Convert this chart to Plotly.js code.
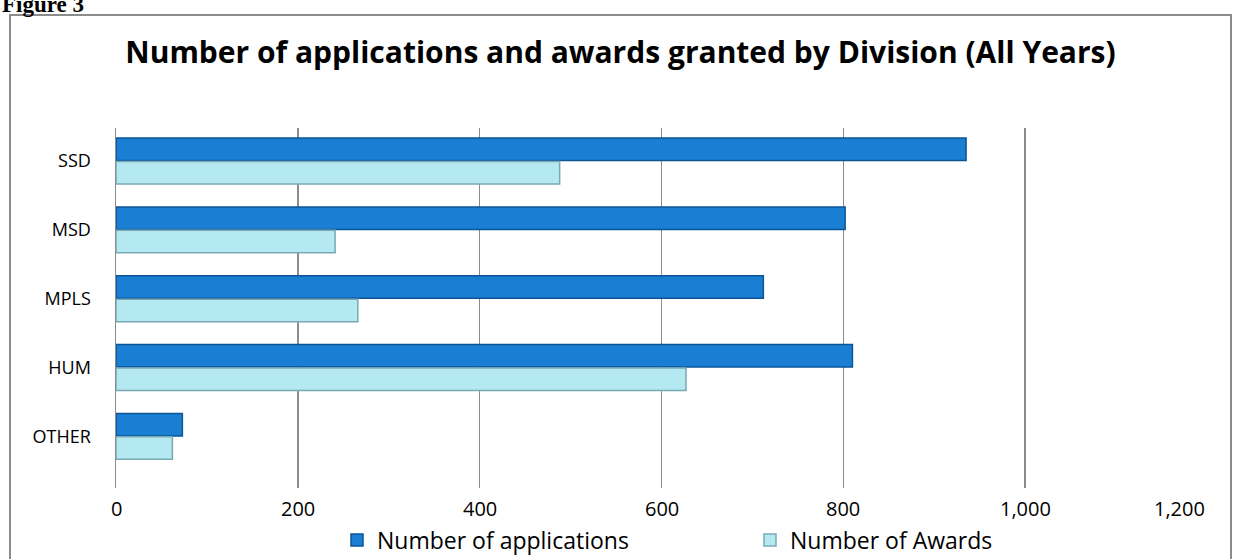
<!DOCTYPE html>
<html>
<head>
<meta charset="utf-8">
<script src="https://cdn.plot.ly/plotly-3.0.1.min.js"></script>
<style>
html,body{margin:0;padding:0;background:#fff;}
#chart{width:1241px;height:559px;}
</style>
</head>
<body>
<div id="chart"></div>
<script>
var divisions = ["SSD", "MSD", "MPLS", "HUM", "OTHER"];
var applications = [935, 802, 712, 810, 73];
var awards = [488, 241, 266, 627, 62];
var tickValues = [0, 200, 400, 600, 800, 1000, 1200];
var tickLabels = ["0", "200", "400", "600", "800", "1,000", "1,200"];
var seriesNames = ["Number of applications", "Number of Awards"];

var L = 116, R = 1207, T = 128, B = 488;
var W = 1241, H = 559;
var pw = R - L, ph = B - T;
function px(x){ return (x - L) / pw; }
function py(y){ return (B - y) / ph; }

var traces = [
  {
    type: "bar", orientation: "h", name: seriesNames[0],
    y: divisions, x: applications,
    marker: {color: "#1a7fd2", line: {color: "#0b5597", width: 1.5}},
    hoverinfo: "x+y"
  },
  {
    type: "bar", orientation: "h", name: seriesNames[1],
    y: divisions, x: awards,
    marker: {color: "#b4e9f1", line: {color: "#7aa9b6", width: 1.5}},
    hoverinfo: "x+y"
  }
];

var annotations = [
  {xref: "paper", yref: "paper", x: px(0), y: py(19), xanchor: "left", yanchor: "bottom",
   text: "<b>Figure 3</b>", showarrow: false,
   font: {family: "Liberation Serif", size: 23, color: "#000"}}
];
tickValues.forEach(function(v, i){
  annotations.push({
    xref: "x", yref: "paper", x: v, y: py(508), yanchor: "middle",
    xanchor: i === tickValues.length - 1 ? "right" : "center",
    text: tickLabels[i], showarrow: false,
    font: {family: "Open Sans", size: 20, color: "#000"}
  });
});

var layout = {
  width: W, height: H,
  margin: {l: L, r: W - R, t: T, b: H - B, pad: 0, autoexpand: false},
  paper_bgcolor: "#ffffff", plot_bgcolor: "#ffffff",
  barmode: "group", bargap: 0.32, bargroupgap: 0.04,
  showlegend: true,
  title: {
    text: "Number of applications and awards granted by Division (All Years)",
    font: {family: "Open Sans", size: 30, color: "#000000", weight: "bold"},
    x: 0.5, xanchor: "center", y: 1 - 52 / H, yanchor: "middle"
  },
  xaxis: {
    range: [0, 1200], tickvals: tickValues, showticklabels: false,
    showgrid: true, gridcolor: "#8c8c8c", gridwidth: 1.5,
    zeroline: false, showline: false, ticks: "", fixedrange: true
  },
  yaxis: {
    type: "category", range: [4.75, -0.48],
    showgrid: false, zeroline: false, showline: true, linecolor: "#8c8c8c", linewidth: 1.5,
    ticks: "", tickfont: {family: "Open Sans", size: 18, color: "#000"},
    ticklabelstandoff: 20, fixedrange: true
  },
  legend: {
    orientation: "h", x: px(337), xanchor: "left", y: py(540), yanchor: "middle",
    font: {family: "Open Sans", size: 23, color: "#000"},
    itemwidth: 30, traceorder: "normal", entrywidth: 368
  },
  shapes: [
    {type: "rect", xref: "paper", yref: "paper",
     x0: px(10), x1: px(1231), y0: py(575), y1: py(15),
     line: {color: "#8c8c8c", width: 2}, fillcolor: "rgba(0,0,0,0)", layer: "below"}
  ],
  annotations: annotations
};

Plotly.newPlot("chart", traces, layout, {displayModeBar: false, staticPlot: true});
</script>
</body>
</html>
